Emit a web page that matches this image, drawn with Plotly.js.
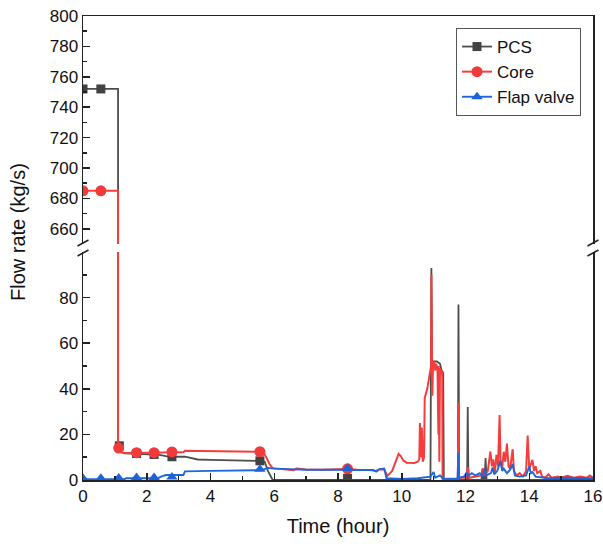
<!DOCTYPE html>
<html>
<head>
<meta charset="utf-8">
<script src="https://cdn.plot.ly/plotly-3.0.1.min.js"></script>
<style>html,body{margin:0;padding:0;background:#fff;}#chart{width:603px;height:544px;}</style>
</head>
<body>
<div id="chart"></div>
<script>
// ---- Data ----
const seriesNames = ["PCS", "Core", "Flap valve"];

const pcsX = [0, 0.56, 1.1, 1.1, 1.14, 1.2, 1.3, 1.7, 2.2, 2.4, 2.6, 2.8, 3.2, 3.4, 3.6, 4.0, 5.0, 5.55, 5.7, 5.8, 5.95, 6.2, 10.9, 10.93, 10.95, 10.97, 11.0, 11.1, 11.2, 11.25, 11.3, 11.32, 11.76, 11.78, 11.8, 12.05, 12.07, 12.09, 12.5, 12.53, 12.56, 12.6, 12.63, 12.66, 12.8, 16];
const pcsY = [752, 752, 752, 16, 15, 12.2, 11.7, 11.5, 11.2, 11, 10.5, 10.2, 10.2, 9.5, 9, 8.8, 8.6, 8.4, 8, 4, 0, 0, 0, 93, 50, 52, 52, 52, 51, 48, 47, 0, 0, 77, 0, 0, 32, 0, 0, 5, 0, 0, 9.6, 0, 0, 0];

const coreX = [0, 0.56, 1.1, 1.1, 1.14, 1.2, 1.3, 1.7, 2.2, 2.8, 3.15, 3.2, 4.0, 5.0, 5.55, 5.65, 5.75, 5.85, 5.95, 6.2, 6.6, 6.7, 7.0, 7.5, 8.0, 8.3, 8.6, 9.0, 9.2, 9.3, 9.45, 9.55, 9.7, 9.82, 9.9, 9.97, 10.05, 10.15, 10.4, 10.5, 10.55, 10.57, 10.6, 10.63, 10.66, 10.7, 10.72, 10.8, 10.88, 10.92, 10.93, 10.95, 10.96, 10.98, 11.02, 11.05, 11.08, 11.12, 11.15, 11.16, 11.18, 11.2, 11.24, 11.27, 11.28, 11.4, 11.6, 11.76, 11.78, 11.8, 12.0, 12.08, 12.12, 12.3, 12.5, 12.55, 12.6, 12.7, 12.78, 12.83, 12.87, 12.92, 12.97, 13.02, 13.07, 13.1, 13.15, 13.2, 13.25, 13.3, 13.35, 13.4, 13.48, 13.52, 13.6, 13.7, 13.8, 13.9, 13.95, 14.0, 14.05, 14.1, 14.15, 14.2, 14.25, 14.35, 14.4, 14.5, 14.6, 14.7, 14.9, 15.0, 15.2, 15.4, 15.6, 15.8, 15.9, 16];
const coreY = [685, 685, 685, 15, 14, 12.2, 11.8, 12, 12, 12.2, 12.2, 12.8, 12.7, 12.5, 12.4, 12.3, 10, 7, 5.2, 4.8, 4.3, 5, 4.6, 4.5, 4.6, 4.8, 4.5, 4.4, 4.0, 4.6, 4.6, 1.8, 4, 8.5, 11.5, 10.5, 8.5, 7.6, 7.5, 8, 9, 25, 10, 23, 8, 10, 36, 40, 48, 50, 90, 45, 37, 50, 52, 48, 51, 49, 20, 50, 8, 49, 47, 47, 0, 0.5, 0.5, 0.5, 34, 1, 1, 5.5, 1, 1.5, 2, 5, 2, 4, 12.5, 6, 9, 3, 11, 6, 28.5, 8, 5, 12.4, 8, 16, 6, 5, 13.5, 4, 2, 3, 1.5, 4, 19.5, 5, 7, 8.8, 4, 6, 3, 4, 1.5, 1, 2.5, 1, 1.5, 1, 1.8, 1, 1.5, 1, 2, 1];

const flapX = [0, 1.3, 1.35, 2.35, 2.45, 2.6, 3.15, 3.2, 4.0, 5.0, 5.6, 5.7, 5.8, 6.0, 6.5, 7.0, 8.0, 8.3, 8.6, 9.1, 9.2, 9.3, 9.45, 9.52, 10.0, 10.5, 10.9, 11.0, 11.05, 11.2, 11.3, 11.75, 11.78, 11.8, 11.95, 12.03, 12.1, 12.2, 12.3, 12.45, 12.55, 12.6, 12.65, 12.8, 12.85, 12.9, 13.0, 13.1, 13.15, 13.2, 13.3, 13.4, 13.48, 13.55, 13.7, 13.9, 14.0, 14.05, 14.1, 14.2, 14.4, 14.6, 15.0, 15.5, 16];
const flapY = [0.3, 0.3, 0.8, 0.8, 1.5, 2.2, 2.2, 3.8, 4, 4.2, 4.3, 4.8, 5.3, 5, 4.6, 4.5, 4.5, 4.6, 4.4, 4.4, 3.7, 4.8, 5, 0.8, 0.5, 0.8, 1.5, 3.5, 1, 2, 0.5, 0.5, 12, 1, 1.5, 3, 2, 3, 2, 3, 1.5, 5, 2, 3, 5.5, 2.5, 4, 8.5, 4, 5, 3, 4.5, 7, 2, 1.5, 2, 6, 3, 3.5, 1.5, 1, 0.8, 1, 0.8, 0.8];

// marker positions
const pcsMarkX = [0, 0.56, 1.14, 1.68, 2.23, 2.79, 5.55, 8.3];
const pcsMarkY = [752, 752, 15, 11.6, 11.2, 10.2, 8.4, 0.7];
const coreMarkX = [0, 0.56, 1.12, 1.68, 2.23, 2.79, 5.55, 8.3];
const coreMarkY = [685, 685, 14, 12, 12, 12.3, 12.4, 4.9];
const flapMarkX = [0, 0.56, 1.12, 1.68, 2.23, 2.79, 5.55, 8.3];
const flapMarkY = [0.8, 0.8, 0.9, 1.1, 1.1, 1.3, 4.7, 5.1];

const xTicks = [0, 2, 4, 6, 8, 10, 12, 14, 16];
const yLowTicks = [0, 20, 40, 60, 80];
const yHighTicks = [660, 680, 700, 720, 740, 760, 780, 800];

// ---- Styling ----
const colors = ["#4d4d4d", "#f53d3d", "#1f66dd"];
const markerColors = ["#424242", "#f23a3a", "#1c63dc"];
const symbols = ["square", "circle", "triangle-up"];
const msizes = [9, 11, 10];
const lwidths = [1.8, 2, 1.9];

function isolated(xs, ys) {
  const ox = [], oy = [];
  for (let i = 0; i < xs.length; i++) {
    ox.push(xs[i]); oy.push(ys[i]);
    ox.push(xs[i]); oy.push(null);
  }
  return {x: ox, y: oy};
}

const lines = [[pcsX, pcsY], [coreX, coreY], [flapX, flapY]];
const marks = [[pcsMarkX, pcsMarkY], [coreMarkX, coreMarkY], [flapMarkX, flapMarkY]];

const data = [];
for (let s = 0; s < 3; s++) {
  const [lx, ly] = lines[s];
  const m = isolated(marks[s][0], marks[s][1]);
  const lineStyle = {color: colors[s], width: lwidths[s]};
  const mk = {symbol: symbols[s], size: msizes[s], color: markerColors[s]};
  data.push({x: lx, y: ly, xaxis: "x", yaxis: "y", mode: "lines", line: lineStyle, showlegend: false, hoverinfo: "skip"});
  data.push({x: lx, y: ly, xaxis: "x2", yaxis: "y2", mode: "lines", line: lineStyle, showlegend: false, hoverinfo: "skip"});
  data.push({x: m.x, y: m.y, xaxis: "x", yaxis: "y", mode: "lines+markers", connectgaps: false, line: lineStyle, marker: mk, name: seriesNames[s], showlegend: true});
  data.push({x: m.x, y: m.y, xaxis: "x2", yaxis: "y2", mode: "lines+markers", connectgaps: false, line: lineStyle, marker: mk, name: seriesNames[s], showlegend: false});
}

const axColor = "#222";
const font = {family: "Arial, 'Liberation Sans', sans-serif", color: "#111"};
const plotW = 510, plotH = 464;
const lowTop = 228 / plotH, highBot = 236 / plotH;

// break marks (pixel sized, in paper coords)
const shapes = [];
function slash(xc, yc) {
  const dx = 5.5 / plotW, dy = 3 / plotH;
  shapes.push({type: "line", xref: "paper", yref: "paper", x0: xc - dx, y0: yc - dy, x1: xc + dx, y1: yc + dy, line: {color: axColor, width: 1.5}});
}
[0, 1].forEach(xc => { slash(xc, highBot + 1 / plotH); slash(xc, lowTop - 1 / plotH); });

const layout = {
  width: 603, height: 544,
  margin: {l: 83, r: 10, t: 16, b: 64},
  paper_bgcolor: "#fff", plot_bgcolor: "#fff",
  font: font,
  showlegend: true,
  xaxis: {
    domain: [0, 1], range: [0, 16], anchor: "y",
    tickvals: xTicks, ticks: "inside", ticklen: 7, tickwidth: 1.5, tickcolor: axColor,
    minor: {dtick: 1, tick0: 0, ticks: "inside", ticklen: 4, tickwidth: 1.5, tickcolor: axColor, showgrid: false},
    showline: true, linecolor: axColor, linewidth: 1.5, showgrid: false, zeroline: false,
    tickfont: {size: 17, family: font.family, color: "#111"},
    title: {text: "Time (hour)", font: {size: 20, family: font.family, color: "#111"}, standoff: 14}
  },
  xaxis2: {
    domain: [0, 1], range: [0, 16], anchor: "y2", matches: "x", side: "top",
    showline: true, linecolor: axColor, linewidth: 1.5, ticks: "", showticklabels: false,
    showgrid: false, zeroline: false
  },
  yaxis: {
    domain: [0, lowTop], range: [0, 100], anchor: "x",
    tickvals: yLowTicks, ticks: "inside", ticklen: 7, tickwidth: 1.5, tickcolor: axColor,
    minor: {tickvals: [10, 30, 50, 70, 90], ticks: "inside", ticklen: 4, tickwidth: 1.5, tickcolor: axColor, showgrid: false},
    showline: true, mirror: true, linecolor: axColor, linewidth: 1.5, showgrid: false, zeroline: false,
    tickfont: {size: 17, family: font.family, color: "#111"}
  },
  yaxis2: {
    domain: [highBot, 1], range: [650, 800], anchor: "x2",
    tickvals: yHighTicks, ticks: "inside", ticklen: 7, tickwidth: 1.5, tickcolor: axColor,
    minor: {tickvals: [670, 690, 710, 730, 750, 770, 790], ticks: "inside", ticklen: 4, tickwidth: 1.5, tickcolor: axColor, showgrid: false},
    showline: true, mirror: true, linecolor: axColor, linewidth: 1.5, showgrid: false, zeroline: false,
    tickfont: {size: 17, family: font.family, color: "#111"}
  },
  legend: {
    x: (581 - 83) / plotW, xanchor: "right", y: (480 - 28) / plotH, yanchor: "top",
    bgcolor: "#fff", bordercolor: "#555", borderwidth: 1,
    font: {size: 17, family: font.family, color: "#111"},
    tracegroupgap: 0
  },
  annotations: [{
    text: "Flow rate (kg/s)", xref: "paper", yref: "paper",
    x: (18 - 83) / plotW, y: (480 - 232) / plotH, xanchor: "center", yanchor: "middle",
    textangle: -90, showarrow: false, font: {size: 20, family: font.family, color: "#111"}
  }],
  shapes: shapes
};

Plotly.newPlot("chart", data, layout, {displayModeBar: false, staticPlot: true});
</script>
</body>
</html>
